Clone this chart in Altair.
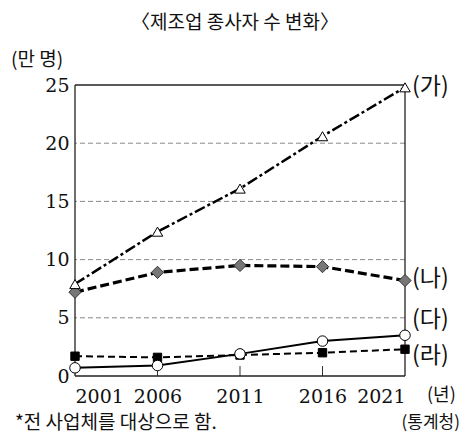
import altair as alt
import pandas as pd

years = [2001, 2006, 2011, 2016, 2021]
ga = [7.9, 12.4, 16.1, 20.6, 24.8]
na = [7.2, 8.9, 9.5, 9.4, 8.2]
da = [0.7, 0.9, 1.9, 3.0, 3.5]
ra = [1.7, 1.6, 1.8, 2.0, 2.3]
series_names = ["(가)", "(나)", "(다)", "(라)"]
label_y = [24.8, 8.3, 4.8, 1.7]
grid_vals = [5, 10, 15, 20]
inner_ticks = [2006, 2011, 2016]

W, H = 330, 291
SERIF = "DejaVu Serif"
KR = "Noto Sans CJK KR"

def df(vals):
    return pd.DataFrame({"year": years, "v": vals})

xs = alt.Scale(domain=[2001, 2021], nice=False, zero=False)
ys = alt.Scale(domain=[0, 25], nice=False)

X = alt.X("year:Q", scale=xs,
          axis=alt.Axis(values=years, format="d", grid=False, ticks=False, domain=False,
                        labelFont=SERIF, labelFontSize=19, labelColor="#111",
                        labelPadding=11, title=None))
Y = alt.Y("v:Q", scale=ys,
          axis=alt.Axis(values=[0, 5, 10, 15, 20, 25], grid=False, ticks=False, domain=False,
                        labelFont=SERIF, labelFontSize=19, labelColor="#111", labelPadding=6,
                        title=None))

grid = alt.Chart(pd.DataFrame({"g": grid_vals})).mark_rule(
    color="#888", strokeDash=[5, 3], strokeWidth=1
).encode(y=alt.Y("g:Q", scale=ys))

ticks = alt.Chart(pd.DataFrame({"t": inner_ticks})).mark_rule(
    color="#333", strokeWidth=1
).encode(x=alt.X("t:Q", scale=xs), y=alt.value(H), y2=alt.value(H - 10))

frame_v = alt.Chart(pd.DataFrame({"t": [2001, 2021]})).mark_rule(
    color="#222", strokeWidth=1.3, clip=False
).encode(x=alt.X("t:Q", scale=xs), y=alt.value(0), y2=alt.value(H))
frame_h = alt.Chart(pd.DataFrame({"g": [0, 25]})).mark_rule(
    color="#222", strokeWidth=1.3, clip=False
).encode(y=alt.Y("g:Q", scale=ys), x=alt.value(0), x2=alt.value(W))

def line(vals, dash, width):
    props = dict(color="#000", strokeWidth=width, clip=False)
    if dash:
        props["strokeDash"] = dash
    return alt.Chart(df(vals)).mark_line(**props).encode(x=X, y=Y)

def pts(vals, shape, fill, stroke, size):
    return alt.Chart(df(vals)).mark_point(
        shape=shape, filled=True, fill=fill, stroke=stroke, strokeWidth=1,
        size=size, opacity=1, clip=False
    ).encode(x=X, y=Y)

layers = [
    grid, ticks, frame_v, frame_h,
    line(ra, [7, 4], 2), pts(ra, "square", "#000", "#000", 70),
    line(da, None, 2), pts(da, "circle", "#fff", "#000", 110),
    line(na, [9, 4], 3.2), pts(na, "diamond", "#777", "#333", 150),
    line(ga, [11, 3, 3, 3], 2.5), pts(ga, "triangle-up", "#fff", "#000", 110),
]

labels = alt.Chart(pd.DataFrame({"year": [2021] * 4, "v": label_y, "s": series_names})).mark_text(
    align="left", baseline="middle", dx=7, font=KR, fontSize=23, color="#111"
).encode(x=alt.X("year:Q", scale=xs), y=alt.Y("v:Q", scale=ys), text="s:N")

unit_x = alt.Chart(pd.DataFrame({"year": [2021], "t": ["(년)"]})).mark_text(
    align="left", baseline="middle", dx=22, font=KR, fontSize=18, color="#111"
).encode(x=alt.X("year:Q", scale=xs), y=alt.value(H + 20), text="t:N")

unit_y = alt.Chart(pd.DataFrame({"t": ["(만 명)"]})).mark_text(
    align="left", baseline="middle", font=KR, fontSize=19, color="#111"
).encode(x=alt.value(-64), y=alt.value(-25), text="t:N")

note = alt.Chart(pd.DataFrame({"t": ["*전 사업체를 대상으로 함."]})).mark_text(
    align="left", baseline="middle", font=KR, fontSize=19, color="#111"
).encode(x=alt.value(-60), y=alt.value(H + 47), text="t:N")
src = alt.Chart(pd.DataFrame({"t": ["(통계청)"]})).mark_text(
    align="right", baseline="middle", font=KR, fontSize=17, color="#111"
).encode(x=alt.value(W + 55), y=alt.value(H + 47), text="t:N")

chart = alt.layer(*layers, labels, unit_x, unit_y, note, src).properties(
    width=W, height=H,
    title=alt.TitleParams("〈제조업 종사자 수 변화〉", font=KR, fontSize=19, fontWeight="normal",
                          color="#111", anchor="middle", dx=-5, offset=18),
    padding={"left": 67, "top": 77, "right": 56, "bottom": 62},
    autosize=alt.AutoSizeParams(type="none"),
    background="white",
).configure_view(stroke=None)

chart.save("out.html", embed_options={"renderer": "svg", "actions": False})
